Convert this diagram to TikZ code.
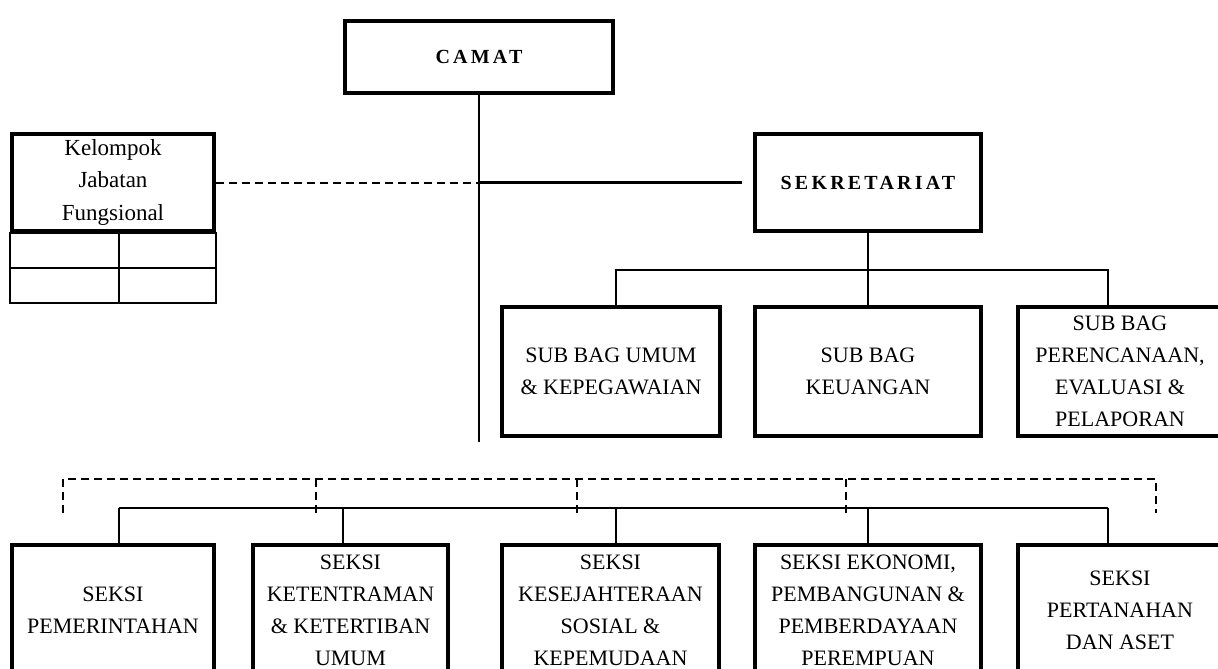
\documentclass[tikz,border=0pt]{standalone}
\usepackage{fontspec}
\setmainfont{Liberation Serif}
\newfontfamily\headfont[LetterSpace=16]{Liberation Serif}
\newcommand{\hd}[1]{{\headfont\bfseries\fontsize{20}{24}\selectfont#1}}
\tikzset{
  box/.style={draw, line width=4pt, align=center, inner sep=0pt, minimum width=#1,
    font=\fontsize{22}{32}\selectfont},
  link/.style={line width=2.8pt},
  trunk/.style={line width=2.2pt},
  dashLink/.style={line width=2pt, dash pattern=on 8pt off 5pt},
  cell/.style={line width=2pt},
}

\begin{document}
\begin{tikzpicture}[x=1pt, y=-1pt]
  \useasboundingbox (0,0) rectangle (1218,669);
  \clip (0,0) rectangle (1218,669);

  % ---------------------------------------------------------------- camat
  \node[box=268pt, minimum height=72pt] (camat) at (479,57) {\hd{CAMAT}};
  \coordinate (trunkEnd) at (479,442);
  \draw[trunk] (camat.south) -- (trunkEnd);

  % ---------------------------------------------------------------- jabatan fungsional
  \node[box=202pt, minimum height=97pt, font=\fontsize{23}{32.5}\selectfont] (jabfung) at (113,182.5)
    {Kelompok\\ Jabatan\\ Fungsional};
  \draw[cell] (jabfung.south west) rectangle (jabfung.south east |- 0,303);
  \draw[cell] (jabfung.south west |- 0,268) -- (jabfung.south east |- 0,268);
  \draw[cell] (119,0 |- jabfung.south) -- (119,303);

  \coordinate (hub) at (camat.south |- jabfung.east);
  \draw[dashLink] (jabfung.east) -- (hub);

  % ---------------------------------------------------------------- sekretariat
  \node[box=226pt, minimum height=97pt] (sekretariat) at (868,182.5) {\hd{SEKRETARIAT}};
  \draw[trunk, shorten >=11pt] (hub) -- (sekretariat.west);

  \node[box=218pt, minimum height=129pt] (subUmum) at (611,371.5)
    {SUB BAG UMUM\\ \& KEPEGAWAIAN};
  \node[box=226pt, minimum height=129pt] (subKeuangan) at (868,371.5)
    {SUB BAG\\ KEUANGAN};
  \node[box=204pt, minimum height=129pt] (subRencana) at (1120,371.5)
    {SUB BAG\\ PERENCANAAN,\\ EVALUASI \&\\ PELAPORAN};

  \coordinate (sekBus) at (868,270);
  \draw[link] (sekretariat.south) -- (subKeuangan.north);
  \draw[link] (616,0 |- subUmum.north) |- (sekBus) -| (1108,0 |- subRencana.north);

  % ---------------------------------------------------------------- seksi
  \node[box=202pt, minimum height=130pt] (seksiPem) at (113,610)
    {SEKSI\\ PEMERINTAHAN};
  \node[box=195pt, minimum height=130pt] (seksiTrantib) at (350.5,610)
    {SEKSI\\ KETENTRAMAN\\ \& KETERTIBAN\\ UMUM};
  \node[box=217pt, minimum height=130pt] (seksiKesos) at (610.5,610)
    {SEKSI\\ KESEJAHTERAAN\\ SOSIAL \&\\ KEPEMUDAAN};
  \node[box=226pt, minimum height=130pt] (seksiEkbang) at (868,610)
    {SEKSI EKONOMI,\\ PEMBANGUNAN \&\\ PEMBERDAYAAN\\ PEREMPUAN};
  \node[box=204pt, minimum height=130pt] (seksiTanah) at (1120,610)
    {SEKSI\\ PERTANAHAN\\ DAN ASET};

  \coordinate (lowBus) at (0,508);
  \draw[link] (119,0 |- lowBus) -- (1108,0 |- lowBus);
  \foreach \n/\x in {seksiPem/119, seksiTrantib/343, seksiKesos/616, seksiEkbang/868, seksiTanah/1108}
    \draw[link] (\x,0 |- lowBus) -- (\x,0 |- \n.north);

  \coordinate (dashBus) at (0,479);
  \draw[dashLink] (63,513) |- (1156,0 |- dashBus) -- (1156,513);
  \foreach \x in {316,577,846}
    \draw[dashLink] (\x,0 |- dashBus) -- (\x,513);

\end{tikzpicture}
\end{document}
